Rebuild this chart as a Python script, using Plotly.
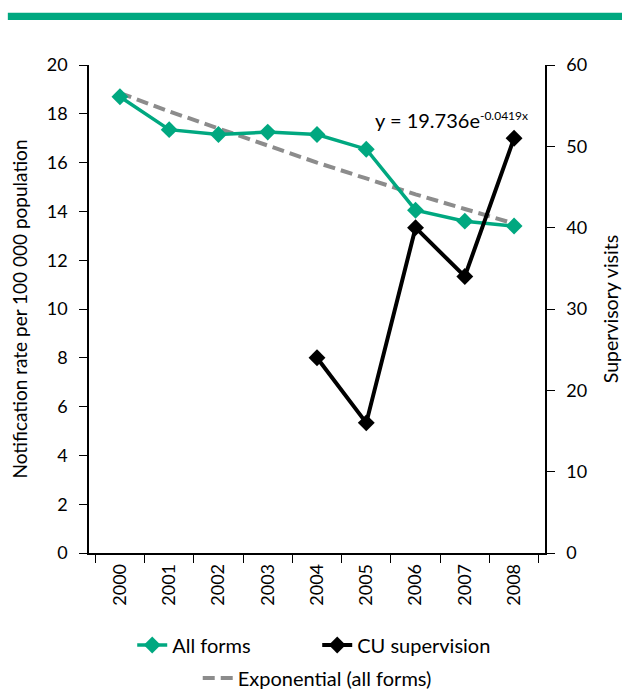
import plotly.graph_objects as go

years = ["2000", "2001", "2002", "2003", "2004", "2005", "2006", "2007", "2008"]
all_forms = [18.7, 17.35, 17.15, 17.25, 17.15, 16.55, 14.05, 13.6, 13.4]
cu_years = ["2004", "2005", "2006", "2007", "2008"]
cu_supervision = [24, 16, 40, 34, 51]
exp_trend = [18.85, 18.1, 17.4, 16.7, 16.0, 15.35, 14.7, 14.1, 13.5]

GREEN = "#00A880"
FONT = "Lato, 'Open Sans', sans-serif"

fig = go.Figure()
fig.add_trace(go.Scatter(
    x=years, y=exp_trend, name="Exponential (all forms)", mode="lines",
    line=dict(color="#8C8C8C", width=4, dash="12px,6px"), legend="legend2"))
fig.add_trace(go.Scatter(
    x=years, y=all_forms, name="All forms", mode="lines+markers",
    line=dict(color=GREEN, width=3.5), marker=dict(symbol="diamond", size=13, color=GREEN)))
fig.add_trace(go.Scatter(
    x=cu_years, y=cu_supervision, name="CU supervision", mode="lines+markers", yaxis="y2",
    line=dict(color="black", width=4), marker=dict(symbol="diamond", size=13, color="black")))

fig.update_layout(
    width=622, height=691,
    margin=dict(l=89, r=77, t=65, b=138, autoexpand=False),
    paper_bgcolor="white", plot_bgcolor="white",
    font=dict(family=FONT, size=18, color="black"),
    xaxis=dict(type="category", categoryorder="array", categoryarray=years,
               showline=True, linecolor="black", linewidth=1.5,
               ticks="outside", ticklen=8, tickcolor="black", tickson="boundaries",
               tickangle=-90, showgrid=False, zeroline=False,
               tickfont=dict(size=18), ticklabelstandoff=2),
    yaxis=dict(range=[0, 20], dtick=2, showline=True, linecolor="black", linewidth=1.5,
               ticks="outside", ticklen=8, tickcolor="black", showgrid=False, zeroline=False,
               tickfont=dict(size=18), ticklabelstandoff=8,
               title=dict(text="Notification rate per 100 000 population", font=dict(size=19), standoff=14)),
    yaxis2=dict(range=[0, 60], dtick=10, overlaying="y", side="right",
                showline=True, linecolor="black", linewidth=1.5,
                ticks="outside", ticklen=8, tickcolor="black", showgrid=False, zeroline=False,
                tickfont=dict(size=18), ticklabelstandoff=8,
                title=dict(text="Supervisory visits", font=dict(size=19.5), standoff=20)),
    legend=dict(orientation="h", x=0.51, xanchor="center", xref="container",
                y=1 - 645 / 691, yanchor="middle", yref="container",
                font=dict(size=20), traceorder="normal", entrywidth=140),
    legend2=dict(orientation="h", x=0.51, xanchor="center", xref="container",
                 y=1 - 678 / 691, yanchor="middle", yref="container",
                 font=dict(size=20)),
    showlegend=True,
    shapes=[dict(type="rect", xref="paper", yref="paper",
                 x0=-0.178, x1=1.17, y0=1.092, y1=1.107,
                 fillcolor=GREEN, line=dict(width=0), layer="above")],
    annotations=[dict(text="y = 19.736e<sup><span style='font-size:12px'>-0.0419x</span></sup>",
                      xref="paper", yref="paper", xanchor="center", yanchor="middle",
                      x=0.794, y=0.888, showarrow=False, font=dict(size=20))],
)

fig.write_html("out.html", config={"displayModeBar": False},
               post_script="document.body.style.margin='0';")
